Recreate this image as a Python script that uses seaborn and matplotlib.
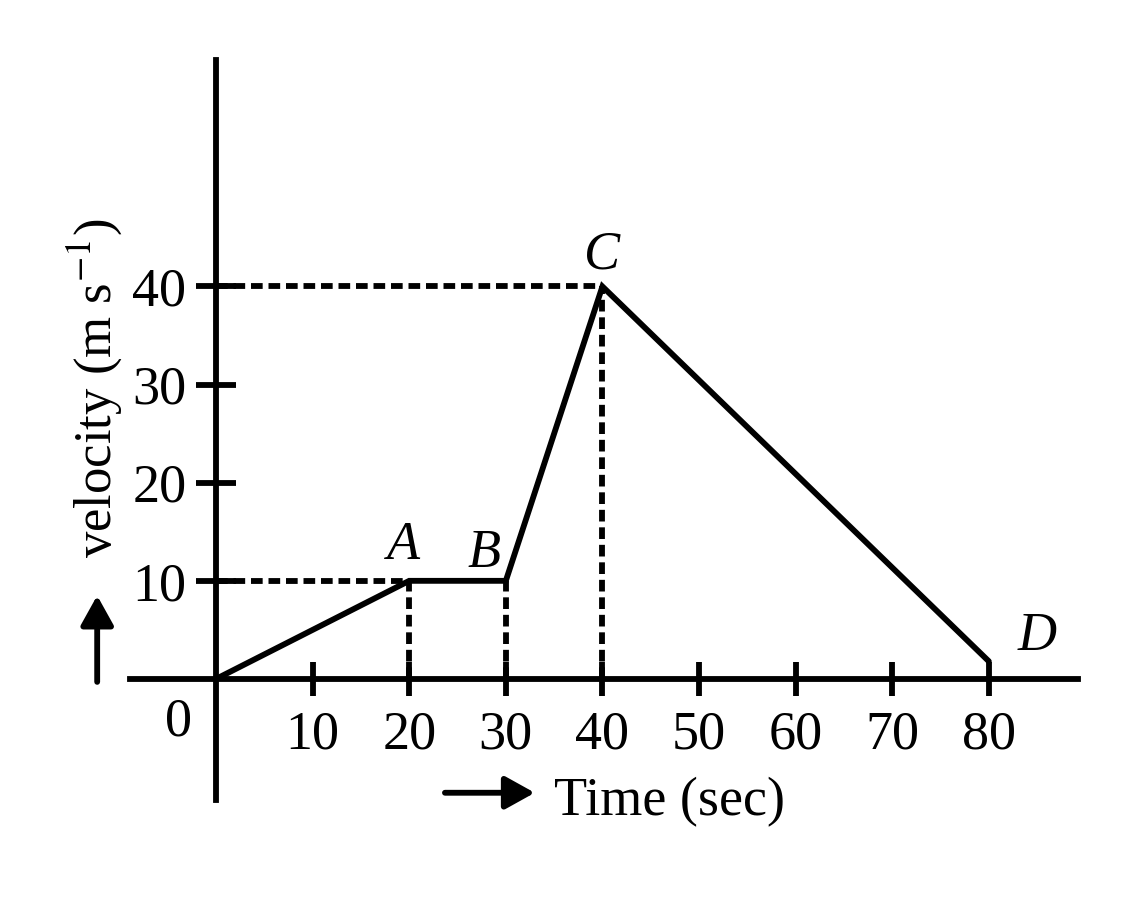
import matplotlib
matplotlib.use("Agg")
import matplotlib.pyplot as plt
import pandas as pd
import seaborn as sns

# Datos
time = [0, 20, 30, 40, 80]
velocity = [0, 10, 10, 40, 1.8]
point_names = ["", "A", "B", "C", "D"]
x_ticks = [10, 20, 30, 40, 50, 60, 70, 80]
y_ticks = [10, 20, 30, 40]

df = pd.DataFrame({"Time": time, "Velocity": velocity})

sns.set_style("white")
plt.rcParams["font.family"] = ["Liberation Serif", "DejaVu Serif"]
plt.rcParams["mathtext.fontset"] = "stix"
plt.rcParams["text.color"] = "black"

fig = plt.figure(figsize=(11.4, 9), dpi=100)
ax = fig.add_axes([0, 0, 1, 1])

lw = 4.2

# Línea principal
sns.lineplot(data=df, x="Time", y="Velocity", color="black", linewidth=lw,
             ax=ax, solid_joinstyle="miter")

# Líneas punteadas de referencia
dash = dict(color="black", linewidth=lw, dashes=(2.0, 1.0))
for t, v in zip(time[1:4], velocity[1:4]):
    ax.plot([t, t], [0, v], **dash)
for t, v in [(time[1], velocity[1]), (time[3], velocity[3])]:
    ax.plot([0, t], [v, v], **dash)

# Ejes cruzados en el origen
ax.set_xlim(-22.36, 95.65)
ax.set_ylim(-22.53, 69.2)
for s in ["top", "right"]:
    ax.spines[s].set_visible(False)
ax.spines["left"].set_position(("data", 0))
ax.spines["bottom"].set_position(("data", 0))
ax.spines["left"].set_bounds(-12.3, 63.1)
ax.spines["bottom"].set_bounds(-8.9, 89.2)
for s in ["left", "bottom"]:
    ax.spines[s].set_linewidth(lw)
    ax.spines[s].set_color("black")

ax.set_xticks(x_ticks)
ax.set_yticks(y_ticks)
ax.tick_params(axis="x", bottom=True, direction="inout", length=24.5,
               width=lw, labelsize=39, pad=10, colors="black")
ax.tick_params(axis="y", left=True, direction="inout", length=28.8,
               width=lw, labelsize=39, pad=7, colors="black")
ax.set_xlabel("")
ax.set_ylabel("")
ax.patch.set_alpha(0)

# Etiquetas de los puntos
offsets = {"A": (-0.6, 3.6), "B": (-2.3, 2.8), "C": (0.0, 3.2), "D": (5.0, 2.5)}
for t, v, name in zip(time, velocity, point_names):
    if name:
        dx, dy = offsets[name]
        ax.text(t + dx, v + dy, name, fontsize=39, style="italic",
                ha="center", va="center")

ax.text(-3.9, -4.4, "0", fontsize=39, ha="center", va="center")

# Títulos de ejes con flechas
arrow = dict(arrowstyle="-|>,head_length=0.9,head_width=0.5", color="black",
             lw=lw, shrinkA=0, shrinkB=0, mutation_scale=20)
ax.text(-12.6, 29.6, r"velocity (m s$^{-1}$)", fontsize=38, rotation=90,
        ha="center", va="center")
ax.annotate("", xy=(-12.3, 8.5), xytext=(-12.3, -0.3), arrowprops=arrow)
ax.text(35.0, -12.5, "Time (sec)", fontsize=39, ha="left", va="center")
ax.annotate("", xy=(33.0, -11.6), xytext=(23.7, -11.6), arrowprops=arrow)

fig.savefig("out.png", dpi=100)
